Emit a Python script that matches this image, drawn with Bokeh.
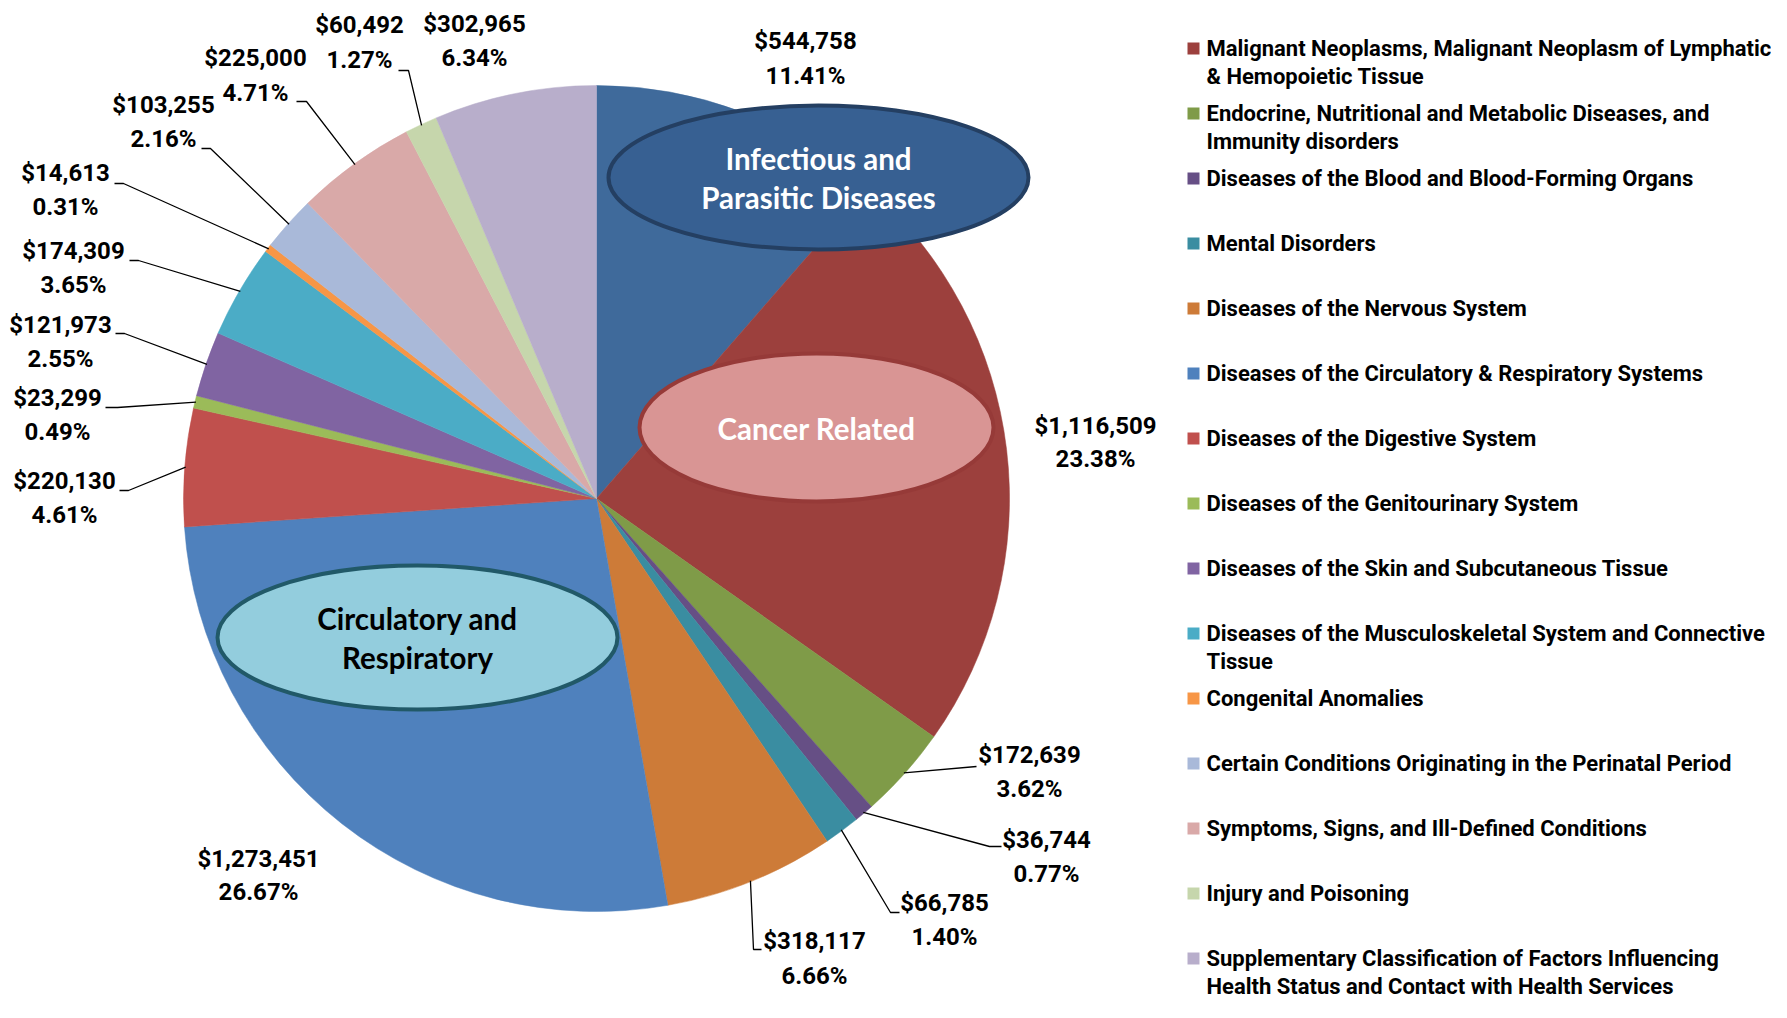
import math
from bokeh.plotting import figure
from bokeh.models import Range1d
from bokeh.core.properties import value
from bokeh.embed import file_html
from bokeh.resources import INLINE

# ---------------- data ----------------
categories = [
    "Infectious and Parasitic Diseases",
    "Malignant Neoplasms, Malignant Neoplasm of Lymphatic & Hemopoietic Tissue",
    "Endocrine, Nutritional and Metabolic Diseases, and Immunity disorders",
    "Diseases of the Blood and Blood-Forming Organs",
    "Mental Disorders",
    "Diseases of the Nervous System",
    "Diseases of the Circulatory & Respiratory Systems",
    "Diseases of the Digestive System",
    "Diseases of the Genitourinary System",
    "Diseases of the Skin and Subcutaneous Tissue",
    "Diseases of the Musculoskeletal System and Connective Tissue",
    "Congenital Anomalies",
    "Certain Conditions Originating in the Perinatal Period",
    "Symptoms, Signs, and Ill-Defined Conditions",
    "Injury and Poisoning",
    "Supplementary Classification of Factors Influencing Health Status and Contact with Health Services",
]
values = [544758, 1116509, 172639, 36744, 66785, 318117, 1273451, 220130,
          23299, 121973, 174309, 14613, 103255, 225000, 60492, 302965]

# legend lines (wrapped as in the original)
legend_lines = [
    ["Malignant Neoplasms, Malignant Neoplasm of Lymphatic", "& Hemopoietic Tissue"],
    ["Endocrine, Nutritional and Metabolic Diseases, and", "Immunity disorders"],
    ["Diseases of the Blood and Blood-Forming Organs"],
    ["Mental Disorders"],
    ["Diseases of the Nervous System"],
    ["Diseases of the Circulatory & Respiratory Systems"],
    ["Diseases of the Digestive System"],
    ["Diseases of the Genitourinary System"],
    ["Diseases of the Skin and Subcutaneous Tissue"],
    ["Diseases of the Musculoskeletal System and Connective", "Tissue"],
    ["Congenital Anomalies"],
    ["Certain Conditions Originating in the Perinatal Period"],
    ["Symptoms, Signs, and Ill-Defined Conditions"],
    ["Injury and Poisoning"],
    ["Supplementary Classification of Factors Influencing", "Health Status and Contact with Health Services"],
]

callouts = [["Infectious and", "Parasitic Diseases"], ["Cancer Related"], ["Circulatory and", "Respiratory"]]

# ---------------- styles / layout ----------------
colors = ["#3F6A9B", "#9C403D", "#7F9B48", "#664F85", "#3A8DA1", "#CD7B38",
          "#4F81BD", "#C0504D", "#9BBB59", "#8064A2", "#4BACC6", "#F79646",
          "#A9B9D9", "#D9A9A8", "#C6D6AC", "#B8AECB"]

# label layout: (x center, y line1, y line2) in picture pixels
label_pos = [(805, 40, 75), (1095, 425, 458), (1029, 754, 788), (1046, 839, 873),
             (944, 902, 936), (814, 940, 975), (258, 858, 891), (64, 480, 514),
             (57, 397, 431), (60, 324, 358), (73, 250, 284), (65, 172, 206),
             (163, 104, 138), (255, 57, 92), (359, 24, 59), (474, 23, 57)]
# leader lines: slice index -> (elbow x, elbow y, stub end x)
leaders = {2: (976, 766, 976), 3: (989, 846, 1001), 4: (890, 912, 899), 5: (753, 949, 761),
           7: (128, 490, 119), 8: (117, 407, 105), 9: (124, 333, 115), 10: (138, 260, 129),
           11: (123, 183, 114), 12: (210, 148, 201), 13: (306, 101, 296), 14: (408, 70, 398)}

CX, CY, R = 596, 498, 413
W, H = 1771, 1002
PAGE_H = 1018


def Y(ry):
    return PAGE_H - ry


p = figure(width=W, height=H, x_range=Range1d(0, W), y_range=Range1d(PAGE_H - H, PAGE_H),
           output_backend="svg", toolbar_location=None, min_border=0)
p.axis.visible = False
p.grid.visible = False
p.outline_line_color = None
p.background_fill_color = "white"

total = float(sum(values))
fr = [v / total for v in values]
starts, ends, mids = [], [], []
c = 0.0
for f in fr:
    starts.append(math.pi / 2 - 2 * math.pi * c)
    mids.append(c + f / 2)
    c += f
    ends.append(math.pi / 2 - 2 * math.pi * c)

p.wedge(x=[CX] * len(values), y=[Y(CY)] * len(values), radius=R,
        start_angle=starts, end_angle=ends, direction="clock",
        fill_color=colors, line_color=colors, line_width=0.5)

# leader lines
xs, ys = [], []
for i, (ex, ey, sx) in leaders.items():
    a = 2 * math.pi * mids[i]
    px = CX + (R - 1) * math.sin(a)
    py = CY - (R - 1) * math.cos(a)
    xs.append([px, ex, sx])
    ys.append([Y(py), Y(ey), Y(ey)])
p.multi_line(xs=xs, ys=ys, line_color="black", line_width=1.3)

# data labels
lab_font = value("Roboto")
tx, ty, tt = [], [], []
for i, v in enumerate(values):
    x, y1, y2 = label_pos[i]
    tx += [x, x]
    ty += [Y(y1), Y(y2)]
    tt += ["${:,}".format(v), "{:.2f}%".format(100 * v / total)]
p.text(x=tx, y=ty, text=tt, text_align="center", text_baseline="middle",
       text_font=lab_font, text_font_style="bold", text_font_size="24px", text_color="black")

# callout ellipses
ell = [((818, 177, 420, 144), "#376092", "#243F62", "white"),
       ((816, 427, 354, 148), "#D99594", "#963A38", "white"),
       ((417, 637, 400, 144), "#93CDDD", "#215968", "black")]
for (ex, ey, ew, eh), fc, lc, tc in ell:
    p.ellipse(x=[ex], y=[Y(ey)], width=ew, height=eh, fill_color=fc, line_color=lc, line_width=4)
for k, ((ex, ey, ew, eh), fc, lc, tc) in enumerate(ell):
    lines = callouts[k]
    n = len(lines)
    yy = [ey + 0.5 + (j - (n - 1) / 2) * 39 for j in range(n)]
    p.text(x=[ex] * n, y=[Y(v) for v in yy], text=lines, text_align="center", text_baseline="middle",
           text_font=value("Lato"), text_font_style="bold", text_font_size="29.5px", text_color=tc)

# legend
LX_SQ, LX_TXT = 1193, 1206
ly0, lstep, lline = 48, 65.0, 28.0
sqx, sqy, lx, lyv, lt = [], [], [], [], []
for k, lines in enumerate(legend_lines):
    y0 = ly0 + k * lstep
    sqx.append(LX_SQ)
    sqy.append(Y(y0))
    for j, ln in enumerate(lines):
        lx.append(LX_TXT)
        lyv.append(Y(y0 + j * lline))
        lt.append(ln)
p.rect(x=sqx, y=sqy, width=12, height=12, fill_color=colors[1:], line_color=None)
p.text(x=lx, y=lyv, text=lt, text_align="left", text_baseline="middle",
       text_font=lab_font, text_font_style="bold", text_font_size="22px", text_color="black")

open("out.html", "w").write(file_html(p, INLINE))
